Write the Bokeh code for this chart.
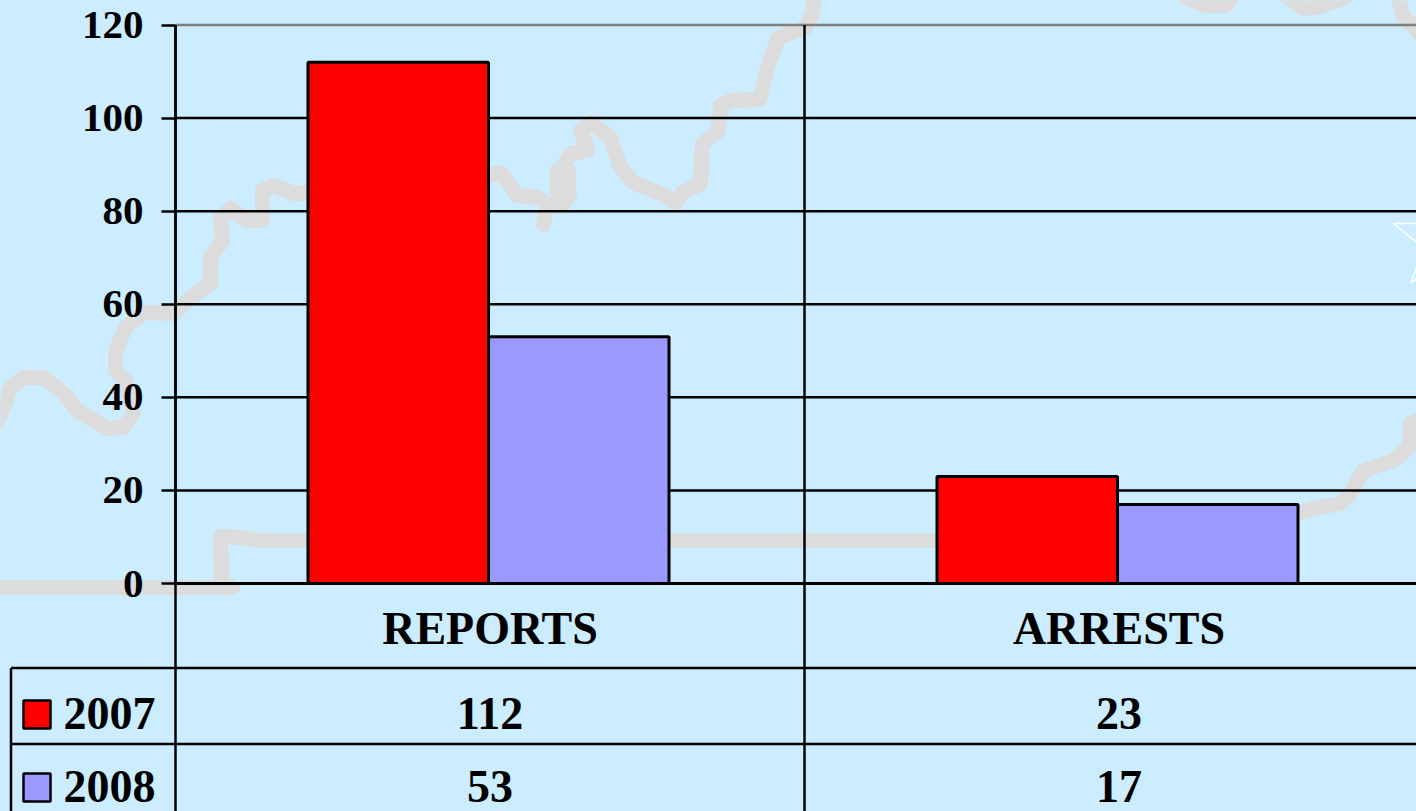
from bokeh.plotting import figure
from bokeh.models import Range1d, FixedTicker
from bokeh.core.properties import value
from bokeh.embed import file_html
from bokeh.resources import INLINE

categories = ["REPORTS", "ARRESTS"]
years = ["2007", "2008"]
v2007 = [112, 23]
v2008 = [53, 17]
y_ticks = [0, 20, 40, 60, 80, 100, 120]

FONT = "Liberation Serif"
BG = "#CCECFF"
RED = "#FF0000"
BLUE = "#9999FF"
MAP = "#DCDCDC"

W, H = 1416, 811
PX_X0, PX_CAT = 175.0, 629.0      # pixel of category 0 start, pixels per category
PX_Y0, PX_Y120 = 583.0, 24.5      # pixel of value 0 and of value 120
K = (PX_Y0 - PX_Y120) / 120.0


def X(px):
    return (px - PX_X0) / PX_CAT


def Y(px):
    return (PX_Y0 - px) / K


# Decorative background map outline, traced in page pixels
map_upper = [(-5, 425), (3, 407), (10, 387), (23, 377), (43, 377), (63, 393), (77, 410), (107, 428),
             (123, 427), (133, 413), (125, 380), (115, 370), (115, 350), (125, 327), (143, 312),
             (173, 313), (187, 300), (210, 283), (210, 257), (222, 240), (220, 218), (230, 208),
             (247, 220), (262, 220), (262, 190), (273, 185), (293, 193), (400, 190), (490, 175),
             (500, 172), (517, 195), (537, 197), (547, 203), (563, 203), (569, 195), (560, 197),
             (560, 170), (570, 153), (587, 150), (580, 130), (590, 122), (610, 137), (620, 167),
             (633, 182), (660, 193), (675, 202), (682, 192), (700, 183), (702, 143), (718, 130),
             (720, 105), (730, 100), (759, 99), (768, 63), (778, 37), (805, 27), (812, 13), (814, -5)]
map_spur = [(547, 203), (543, 224)]
map_blob = [(557, 190), (557, 170), (568, 170), (568, 190)]
map_lower = [(-5, 587), (232, 587), (222, 583), (220, 547), (220, 536), (240, 537), (260, 540),
             (930, 540), (1100, 540), (1290, 515), (1300, 512), (1313, 508), (1340, 503), (1350, 493),
             (1363, 470), (1393, 460), (1408, 447), (1410, 423), (1420, 418)]
map_top = [[(1185, -3), (1205, 5), (1225, 5), (1232, -3)],
           [(1288, -3), (1303, 8), (1320, 6), (1345, -3)],
           [(1398, -3), (1402, 15), (1420, 34)]]
star_lines = [[(1420, 223), (1393, 223), (1420, 245)],
              [(1420, 255), (1411, 282), (1420, 276)]]

# Table layout in page pixels
TABLE_TOP, TABLE_MID = 667.5, 743.5
ROW_Y = [713, 786]
SWATCH = [(700, 728), (773, 801)]
SWATCH_X = (23, 50)
TABLE_LEFT = 10.5

p = figure(width=W, height=H, output_backend="svg", toolbar_location=None,
           x_range=Range1d(X(0), X(W)), y_range=Range1d(Y(H), Y(0)),
           min_border=0, background_fill_color=BG, border_fill_color=BG, outline_line_color=None)
p.grid.visible = False


def path(pts, **kw):
    p.line([X(a) for a, _ in pts], [Y(b) for _, b in pts], **kw)


mapstyle = dict(line_color=MAP, line_width=15, line_join="round", line_cap="round")
for pts in [map_upper, map_lower, map_spur, map_blob] + map_top:
    path(pts, **mapstyle)
for pts in star_lines:
    path(pts, line_color="white", line_width=1.6)

# gridlines
xmax = X(W)
grid_ys = [t for t in y_ticks if t not in (0, 120)]
p.segment(x0=0, x1=xmax, y0=grid_ys, y1=grid_ys, line_color="black", line_width=2.5)
p.segment(x0=[0], x1=[xmax], y0=[120], y1=[120], line_color="#7F7F7F", line_width=2.5)

# bars
centers = [i + 0.5 for i in range(len(categories))]
bw = 180.5 / PX_CAT
shift = -1.5 / PX_CAT
style = dict(line_color="black", line_width=3)
p.vbar(x=[c - bw / 2 + shift for c in centers], top=v2007, bottom=0, width=bw, fill_color=RED, **style)
p.vbar(x=[c + bw / 2 + shift for c in centers], top=v2008, bottom=0, width=bw, fill_color=BLUE, **style)

# table rules
lw = 2.5
p.segment(x0=X(TABLE_LEFT), x1=xmax, y0=[Y(TABLE_TOP), Y(TABLE_MID)], y1=[Y(TABLE_TOP), Y(TABLE_MID)],
          line_color="black", line_width=lw)
p.segment(x0=[X(TABLE_LEFT)], x1=[X(TABLE_LEFT)], y0=[Y(TABLE_TOP)], y1=[Y(H)], line_color="black", line_width=lw)
p.segment(x0=[0, 1], x1=[0, 1], y0=[120, 120], y1=[Y(H), Y(H)], line_color="black", line_width=lw)

# legend keys and table texts
p.quad(left=X(SWATCH_X[0]), right=X(SWATCH_X[1]),
       top=[Y(a) for a, _ in SWATCH], bottom=[Y(b) for _, b in SWATCH],
       fill_color=[RED, BLUE], line_color="black", line_width=2.5)
txt = dict(text_font=value(FONT), text_font_style="bold", text_font_size="46px",
           text_color="black", text_baseline="middle")
p.text(x=X(63), y=[Y(r) for r in ROW_Y], text=years, text_align="left", **txt)
for r, vals in zip(ROW_Y, [v2007, v2008]):
    p.text(x=centers, y=Y(r), text=[str(v) for v in vals], text_align="center", **txt)

# axes
ya = p.yaxis[0]
ya.fixed_location = 0
ya.bounds = (0, 120)
ya.ticker = FixedTicker(ticks=y_ticks)
ya.axis_line_color = "black"
ya.axis_line_width = 2.5
ya.major_tick_in = 0
ya.major_tick_out = 14
ya.major_tick_line_width = 2.5
ya.minor_tick_line_color = None
ya.major_label_standoff = 18
ya.major_label_text_font = FONT
ya.major_label_text_font_style = "bold"
ya.major_label_text_font_size = "41px"
ya.major_label_text_color = "black"

xa = p.xaxis[0]
xa.fixed_location = 0
xa.bounds = (0, xmax)
xa.ticker = FixedTicker(ticks=centers)
xa.major_label_overrides = dict(zip(centers, categories))
xa.axis_line_color = "black"
xa.axis_line_width = 3
xa.major_tick_line_color = None
xa.major_tick_in = 0
xa.major_tick_out = 0
xa.minor_tick_line_color = None
xa.major_label_standoff = 19
xa.major_label_text_font = FONT
xa.major_label_text_font_style = "bold"
xa.major_label_text_font_size = "46px"
xa.major_label_text_color = "black"

open("out.html", "w").write(
    file_html(p, INLINE).replace("<head>", "<head><style>html,body{margin:0;padding:0;overflow:hidden;background:%s}</style>" % BG, 1)
)
